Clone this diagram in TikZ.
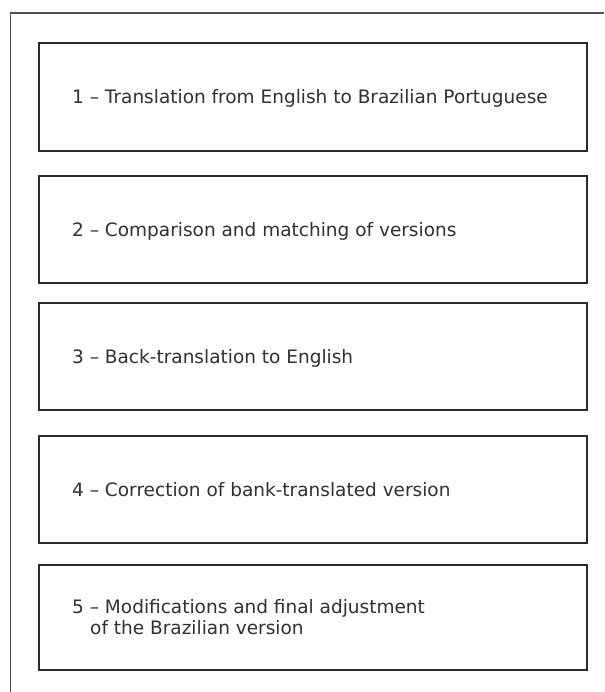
\documentclass[tikz,border=0pt]{standalone}
\usepackage{fontspec}
\setmainfont{DejaVu Sans}
\definecolor{boxcol}{HTML}{2A2A2A}
\definecolor{framecol}{HTML}{505050}
\definecolor{txtcol}{HTML}{303030}
\begin{document}
\begin{tikzpicture}[x=1pt,y=-1pt,
  stepbox/.style={draw=boxcol, line width=2.4pt, inner sep=0pt, rectangle, minimum width=548pt},
  steptext/.style={anchor=base west, inner sep=0pt, font=\fontsize{18.5}{21}\selectfont, text=txtcol, align=left}]
\useasboundingbox (0,0) rectangle (604,692);
\coordinate (fbl) at (10.7,692);
\coordinate (ftl) at (10.7,13);
\coordinate (ftr) at (604,13);
\draw[framecol, line width=1.4pt] (fbl) -- (ftl) -- (ftr);
\node[stepbox, minimum height=108pt] (b1) at (313,97) {};
\node[stepbox, minimum height=107pt] (b2) at (313,229.5) {};
\node[stepbox, minimum height=107pt] (b3) at (313,356.5) {};
\node[stepbox, minimum height=107pt] (b4) at (313,489.5) {};
\node[stepbox, minimum height=105pt] (b5) at (313,617.5) {};
\node[steptext] (t1) at (72,103.7) {1 – Translation from English to Brazilian Portuguese};
\node[steptext] (t2) at (72,236.2) {2 – Comparison and matching of versions};
\node[steptext] (t3) at (72,363.2) {3 – Back-translation to English};
\node[steptext] (t4) at (72,496.2) {4 – Correction of bank-translated version};
\node[steptext, anchor=west] (t5) at (72,617.5) {5 – Modifications and final adjustment\\\hspace*{18pt}of the Brazilian version};
\end{tikzpicture}
\end{document}
